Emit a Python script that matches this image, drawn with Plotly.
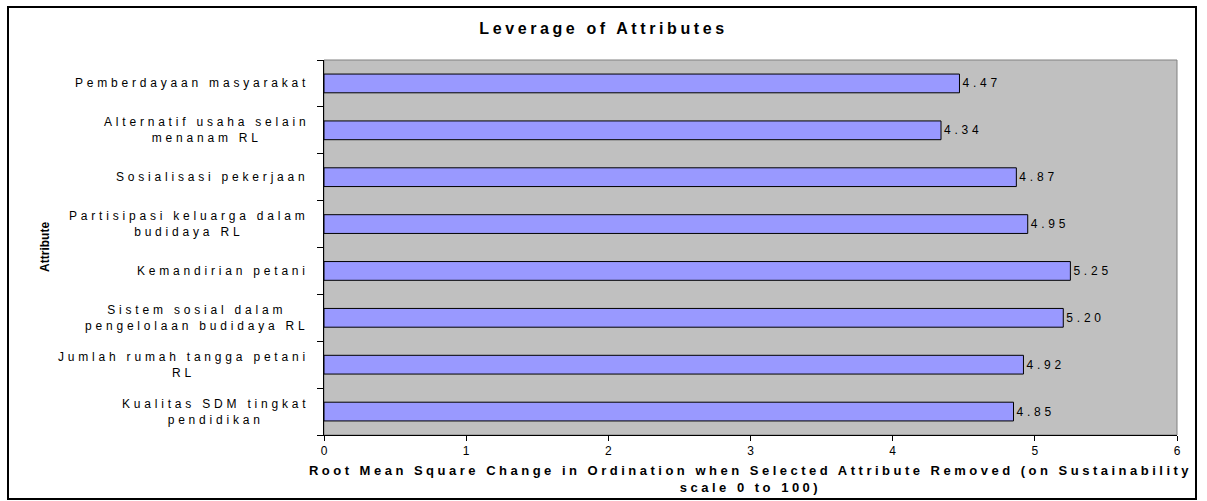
import plotly.graph_objects as go

# Data (bottom to top, as drawn on the category axis)
attributes = [
    "Kualitas SDM tingkat<br>pendidikan",
    "Jumlah rumah tangga petani<br>RL",
    "Sistem sosial dalam<br>pengelolaan budidaya RL",
    "Kemandirian petani",
    "Partisipasi keluarga dalam<br>budidaya RL",
    "Sosialisasi pekerjaan",
    "Alternatif usaha selain<br>menanam RL",
    "Pemberdayaan masyarakat",
]
rms_change = [4.85, 4.92, 5.20, 5.25, 4.95, 4.87, 4.34, 4.47]
x_ticks = [0, 1, 2, 3, 4, 5, 6]

chart_title = "Leverage of Attributes"
x_title = ("Root Mean Square Change in Ordination when Selected Attribute Removed (on Sustainability"
           "<br>scale 0 to 100)")
y_title = "Attribute"

FONT = "Arial, 'Liberation Sans', sans-serif"

# pixel layout of plot area
W, H = 1207, 501
L, R, T, B = 324, 1177, 60, 435
pw, ph = R - L, B - T


def px(x):
    return (x - L) / pw


def py(y):
    return (B - y) / ph


fig = go.Figure()
fig.add_trace(go.Bar(
    y=attributes,
    x=rms_change,
    orientation="h",
    width=0.4,
    marker=dict(color="#9999FF", line=dict(color="#000000", width=1)),
    texttemplate="%{x:.2f}",
    textposition="outside",
    textfont=dict(family=FONT, size=12, color="#000000"),
    cliponaxis=False,
    showlegend=False,
))

annotations = [
    dict(text=f"<b>{y_title}</b>", xref="paper", yref="paper", x=px(45), y=py(247),
         textangle=-90, showarrow=False, xanchor="center", yanchor="middle",
         font=dict(family="'Liberation Sans Narrow', 'Arial Narrow', " + FONT, size=12, color="#000000")),
]
for cat in attributes:
    annotations.append(dict(
        text=cat, xref="paper", yref="y", x=px(311), y=cat,
        xanchor="right", yanchor="middle",
        align="center" if "<br>" in cat else "right", showarrow=False,
        font=dict(family=FONT, size=12, color="#000000"),
    ))

shapes = [
    # plot area border (gray)
    dict(type="rect", xref="paper", yref="paper", x0=0, x1=1, y0=0, y1=1,
         line=dict(color="#808080", width=1), fillcolor="rgba(0,0,0,0)", layer="below"),
    # outer chart frame
    dict(type="rect", xref="paper", yref="paper", x0=px(8), x1=px(1196), y0=py(499), y1=py(7),
         line=dict(color="#000000", width=2), fillcolor="rgba(0,0,0,0)"),
]

fig.update_layout(
    width=W, height=H,
    margin=dict(l=L, r=W - R, t=T, b=H - B, pad=0),
    paper_bgcolor="#FFFFFF",
    plot_bgcolor="#C0C0C0",
    font=dict(family=FONT, size=12, color="#000000"),
    title=dict(text=f"<b>{chart_title}</b>", x=0.5, xref="container", xanchor="center",
               y=1 - 28 / H, yref="container", yanchor="middle",
               font=dict(family=FONT, size=16, color="#000000")),
    xaxis=dict(
        range=[0, 6], tickvals=x_ticks, ticktext=[str(v) for v in x_ticks],
        showgrid=False, zeroline=False,
        showline=True, linecolor="#000000", linewidth=1,
        ticks="outside", ticklen=5, tickcolor="#000000",
        tickfont=dict(family=FONT, size=12, color="#000000"),
        title=dict(text=f"<b>{x_title}</b>", standoff=8,
                   font=dict(family=FONT, size=13, color="#000000")),
        automargin=False,
    ),
    yaxis=dict(
        type="category", categoryorder="array", categoryarray=attributes,
        range=[-0.5, len(attributes) - 0.5],
        showgrid=False, zeroline=False,
        showline=True, linecolor="#000000", linewidth=1,
        ticks="outside", ticklen=6, tickcolor="#000000", tickson="boundaries",
        showticklabels=False,
        automargin=False,
    ),
    annotations=annotations,
    shapes=shapes,
    bargap=0.6,
)

post = """
var gd = document.getElementById('{plot_id}');
var s = document.createElement('style');
s.textContent = 'body{margin:0 !important;padding:0}' +
  '.gtitle{letter-spacing:3.6px}.xtitle{letter-spacing:3.5px}' +
  '.annotation-text{letter-spacing:3.8px}g.annotation[data-index="0"] .annotation-text{letter-spacing:0px}' +
  '.bartext{letter-spacing:3.8px;translate:3px 0px}';
document.head.appendChild(s);
var bump = function(f){ if(f && f.family){ f.family = f.family + ', serif'; } };
(gd.layout.annotations || []).forEach(function(a){ bump(a.font); });
gd.data.forEach(function(t){ bump(t.textfont); });
if (gd.layout.title) bump(gd.layout.title.font);
if (gd.layout.xaxis && gd.layout.xaxis.title) bump(gd.layout.xaxis.title.font);
return Plotly.newPlot(gd, gd.data, gd.layout, {responsive: true, displaylogo: false, displayModeBar: false});
"""

fig.write_html("out.html", post_script=post, config={"displayModeBar": False})
